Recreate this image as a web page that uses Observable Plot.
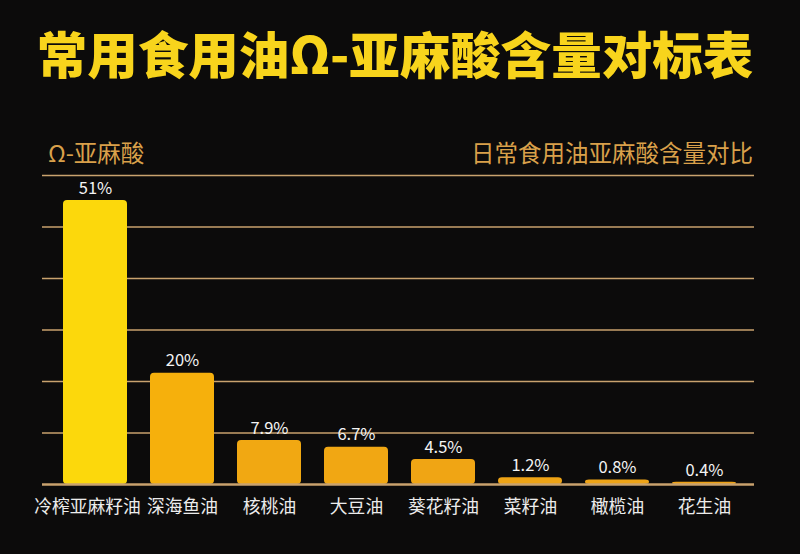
<!DOCTYPE html>
<html>
<head>
<meta charset="utf-8">
<script src="https://cdn.jsdelivr.net/npm/d3@7"></script>
<script src="https://cdn.jsdelivr.net/npm/@observablehq/plot@0.6"></script>
<style>
  html, body { margin: 0; padding: 0; background: #0c0b0b; }
  #wrap { width: 800px; height: 554px; position: relative; overflow: hidden; background: #0c0b0b;
          font-family: "Noto Sans CJK SC", "Noto Sans", sans-serif; }
  #title { position: absolute; left: -5px; top: 22px; width: 800px; text-align: center;
           color: #f8d41c; font-size: 50.5px; font-weight: 900; line-height: 60px; letter-spacing: 0px; }
  #subL { position: absolute; left: 48px; top: 136px; color: #d9a04a; font-size: 23.5px; line-height: 32px; }
  #subR { position: absolute; right: 47px; top: 136px; color: #d9a04a; font-size: 23.5px; line-height: 32px; }
  #chart { position: absolute; left: 0; top: 170px; }
</style>
</head>
<body>
<div id="wrap">
  <div id="title">常用食用油Ω-亚麻酸含量对标表</div>
  <div id="subL">Ω-亚麻酸</div>
  <div id="subR">日常食用油亚麻酸含量对比</div>
  <div id="chart"></div>
</div>
<script>
const oils = ["冷榨亚麻籽油", "深海鱼油", "核桃油", "大豆油", "葵花籽油", "菜籽油", "橄榄油", "花生油"];
const percents = [51, 20, 7.9, 6.7, 4.5, 1.2, 0.8, 0.4];
const valueLabels = ["51%", "20%", "7.9%", "6.7%", "4.5%", "1.2%", "0.8%", "0.4%"];

const data = oils.map((oil, i) => ({oil, value: percents[i], label: valueLabels[i]}));
const yMax = 55.5;
const gridTicks = d3.range(0, 7).map(i => i * yMax / 6);

const axisStyle = {tickSize: 0, tickPadding: 16, fontSize: 17.8, fill: "#ececec", label: null};

const chart = Plot.plot({
  width: 800,
  height: 384,
  marginTop: 5,
  marginBottom: 70,
  marginLeft: 37,
  marginRight: 39,
  style: {background: "transparent", color: "#eeeeee", fontFamily: "'Noto Sans CJK SC', sans-serif"},
  x: {domain: oils, padding: 0.27, label: null},
  y: {domain: [0, yMax], axis: null},
  color: {type: "linear", domain: [0, 20, 51], range: ["#eea216", "#f6b00c", "#fcd80c"]},
  marks: [
    Plot.ruleY(gridTicks.slice(1), {stroke: "#c9a26e", strokeWidth: 1.5, insetLeft: 5, insetRight: 7}),
    Plot.barY(data, {x: "oil", y: "value", fill: "value", rx: 4}),
    Plot.ruleY([0], {stroke: "#c9a26e", strokeWidth: 2.4, insetLeft: 5, insetRight: 7}),
    Plot.text(data, {x: "oil", y: "value", text: "label", dy: -12, fill: "#f4f4f4", fontSize: 16.5}),
    Plot.axisX(oils.slice(0, 1), {...axisStyle, dx: -8}),
    Plot.axisX(oils.slice(1), {...axisStyle})
  ]
});
document.getElementById("chart").appendChild(chart);
</script>
</body>
</html>
